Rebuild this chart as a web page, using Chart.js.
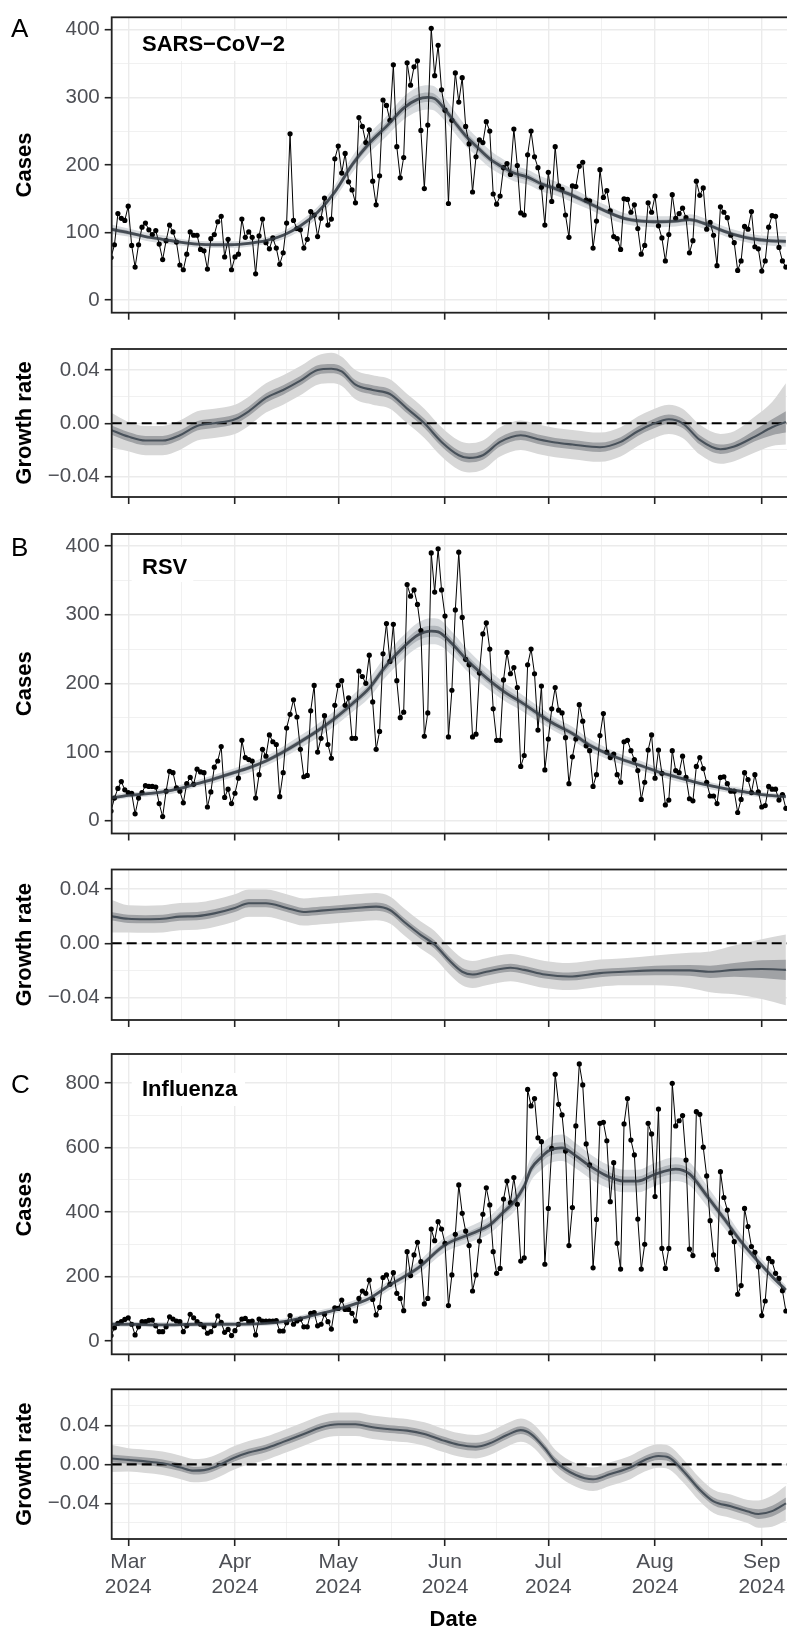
<!DOCTYPE html>
<html><head><meta charset="utf-8">
<script src="https://cdn.jsdelivr.net/npm/chart.js@4.4.1/dist/chart.umd.min.js"></script>
<style>
html,body{margin:0;padding:0;background:#fff;width:787px;height:1628px;overflow:hidden;position:relative;}
canvas{position:absolute;left:0;top:0;}
</style></head><body>
<canvas id="c0" width="800" height="1640"></canvas>
<canvas id="c1" width="800" height="1640"></canvas>
<canvas id="c2" width="800" height="1640"></canvas>
<canvas id="c3" width="800" height="1640"></canvas>
<canvas id="c4" width="800" height="1640"></canvas>
<canvas id="c5" width="800" height="1640"></canvas>
<script>
// ---------------- DATA ----------------
// x values are days counted from 1 March 2024
const monthStarts = [0, 31, 61, 92, 122, 153, 184];
const monthMids = [15.5, 46, 76.5, 107, 137.5, 168.5];
const monthLabels = ['Mar', 'Apr', 'May', 'Jun', 'Jul', 'Aug', 'Sep'];
const yearLabel = '2024';
const obsStart = -5; // 25 Feb 2024, daily observations

// SARS-CoV-2 daily cases
const sarsCases = [63,82,128,121,118,139,81,49,82,108,
114,104,97,103,83,60,88,111,101,86,
52,45,68,101,96,96,75,73,46,91,
97,116,124,64,90,45,64,68,120,93,
101,93,39,95,120,85,76,92,77,53,
70,114,246,118,106,104,77,90,131,126,
94,121,151,111,120,209,228,188,217,175,
163,144,270,257,233,252,176,141,184,296,
288,
266,348,227,181,211,351,318,345,354,251,
165,259,402,332,377,311,281,143,266,336,
293,329,257,231,160,212,237,233,264,250,
157,142,154,196,202,186,253,199,129,126,
215,250,212,196,167,111,189,146,227,169,
164,126,93,169,168,198,204,148,147,77,
117,193,152,162,132,94,91,75,150,149,
130,141,106,68,81,144,130,154,110,92,
58,97,156,121,128,136,122,70,88,176,
155,166,105,115,96,51,138,130,122,96,
85,44,58,109,105,131,79,76,43,58,
108,125,124,78,58,49];
const sarsTrendDays = [-5,0,5,10,15,20,25,30,35,40,45,50,55,60,65,70,75,80,84,87,89,92,95,98,101,105,109,112,116,120,124,129,134,139,144,149,154,159,163,167,171,176,181,186,191];
const sarsTrend = [105,100,94,90,86,83,82,82,84,88,96,110,130,160,200,232,257,284,297,300,298,282,262,243,228,209,196,188,182,172,165,155,143,131,121,117,116,117,119,114,106,97,91,88,87];
const sarsHi95 = [112,106,100,96,91,88,87,87,89,93,102,117,138,170,212,246,272,301,315,318,316,299,278,258,242,222,208,200,193,183,176,165,152,140,129,125,124,125,127,122,113,104,98,95,95];
const sarsLo95 = [98,94,88,84,81,78,77,77,79,83,90,103,122,150,188,218,242,267,279,282,280,265,246,228,214,196,184,176,171,161,155,145,134,122,113,109,108,109,111,106,99,90,84,81,79];
const sarsHi50 = [108,103,96,92,88,85,84,84,86,90,98,113,133,164,205,238,263,291,304,307,305,289,268,249,234,214,201,193,187,176,169,159,147,134,124,120,119,120,122,117,109,100,94,91,90];
const sarsLo50 = [102,97,92,88,84,81,80,80,82,86,94,107,127,156,195,226,251,277,290,293,291,275,256,237,222,204,191,183,177,168,161,151,139,128,118,114,113,114,116,111,103,94,88,85,84];
const sarsGrowthDays = [-5,0,5,10,15,20,25,31,35,40,45,50,55,59,62,66,71,76,81,86,91,96,99,103,108,114,119,124,129,137,143,148,152,157,161,166,172,176,182,187,191];
const sarsGrowth = [-0.005,-0.010,-0.013,-0.013,-0.009,-0.002,0.000,0.003,0.009,0.019,0.025,0.032,0.040,0.041,0.039,0.029,0.025,0.022,0.011,0.000,-0.014,-0.024,-0.026,-0.024,-0.014,-0.009,-0.012,-0.0145,-0.016,-0.018,-0.014,-0.006,-0.001,0.003,0.000,-0.0125,-0.0195,-0.0175,-0.010,-0.003,0.001];
const sarsGHi95 = [0.008,0.001,-0.002,-0.002,0.002,0.009,0.011,0.014,0.020,0.030,0.036,0.043,0.051,0.053,0.050,0.040,0.036,0.033,0.022,0.011,-0.003,-0.013,-0.015,-0.013,-0.003,0.002,-0.001,-0.0035,-0.005,-0.007,-0.003,0.005,0.010,0.014,0.011,-0.001,-0.008,-0.006,0.005,0.016,0.030];
const sarsGLo95 = [-0.018,-0.021,-0.024,-0.024,-0.020,-0.013,-0.011,-0.008,-0.002,0.008,0.014,0.021,0.029,0.030,0.028,0.018,0.014,0.011,0.000,-0.011,-0.025,-0.035,-0.037,-0.035,-0.025,-0.020,-0.023,-0.0255,-0.027,-0.029,-0.025,-0.017,-0.012,-0.008,-0.011,-0.0235,-0.0305,-0.0285,-0.022,-0.017,-0.016];
const sarsGHi50 = [-0.0015,-0.0065,-0.0095,-0.0095,-0.0055,0.0015,0.0035,0.0065,0.0125,0.0225,0.0285,0.0355,0.0435,0.0445,0.0425,0.0325,0.0285,0.0255,0.0145,0.0035,-0.0105,-0.0205,-0.0225,-0.0205,-0.0105,-0.0055,-0.0085,-0.011,-0.0125,-0.0145,-0.0105,-0.0025,0.0025,0.0065,0.0035,-0.009,-0.016,-0.014,-0.005,0.003,0.009];
const sarsGLo50 = [-0.0085,-0.0135,-0.0165,-0.0165,-0.0125,-0.0055,-0.0035,-0.0005,0.0055,0.0155,0.0215,0.0285,0.0365,0.0375,0.0355,0.0255,0.0215,0.0185,0.0075,-0.0035,-0.0175,-0.0275,-0.0295,-0.0275,-0.0175,-0.0125,-0.0155,-0.018,-0.0195,-0.0215,-0.0175,-0.0095,-0.0045,-0.0005,-0.0035,-0.016,-0.023,-0.021,-0.0135,-0.009,-0.007];

// RSV daily cases
const rsvCases = [14,33,47,57,45,41,40,10,33,41,
51,50,50,49,25,6,43,72,70,48,
43,26,54,63,53,75,71,70,20,42,
78,87,108,34,46,25,40,62,117,92,
89,87,33,67,104,94,125,115,111,35,
70,135,155,176,151,104,64,66,160,197,
100,120,153,111,91,168,197,204,168,179,
120,120,218,210,200,241,173,104,130,243,
287,
232,286,204,150,158,344,327,336,315,277,
123,157,390,333,396,336,298,122,190,307,
391,296,235,227,122,126,215,272,288,250,
163,117,117,205,245,214,223,194,79,95,
227,250,214,132,196,74,119,163,194,161,
157,121,54,93,119,169,145,109,102,50,
67,124,156,100,92,97,67,56,115,117,
102,89,73,31,56,103,125,62,103,69,
23,30,102,73,70,94,63,32,29,79,
92,76,56,36,36,25,63,64,54,43,
43,12,31,70,60,41,67,42,20,22,
50,46,46,30,38,18];
const rsvTrendDays = [-5,0,5,10,15,20,25,30,35,40,45,50,55,60,65,70,74,76,78,80,84,88,90,94,98,102,106,110,114,119,124,129,134,139,144,149,154,159,164,169,174,179,184,191];
const rsvTrend = [33,37,39,42,47,54,61,69,77,87,100,115,131,149,170,193,220,232,243,253,270,276,275,258,236,217,200,185,173,156,140,127,110,98,88,80,71,64,57,51,46,42,38,35];
const rsvHi95 = [37,41,43,47,52,59,67,75,84,94,108,124,141,160,182,207,235,248,260,270,288,295,294,275,252,232,214,198,185,167,150,137,119,106,95,87,77,70,62,56,51,47,42,39];
const rsvLo95 = [29,33,35,37,42,49,55,63,70,80,92,106,121,138,158,179,205,216,226,236,252,257,256,241,220,202,186,172,161,145,130,117,101,90,81,73,65,58,52,46,41,37,34,31];
const rsvHi50 = [35,39,41,44,49,56,64,72,80,90,104,119,135,154,175,199,226,239,250,260,278,284,283,265,243,223,206,191,178,161,145,131,114,101,91,83,74,67,59,53,48,44,40,37];
const rsvLo50 = [31,35,37,40,45,52,58,66,74,84,96,111,127,144,165,187,214,225,236,246,262,268,267,251,229,211,194,179,168,151,135,123,106,95,85,77,68,61,55,49,44,40,36,33];
const rsvGrowthDays = [-5,0,5,10,15,20,25,31,35,40,46,51,56,61,66,72,76,80,85,89,93,97,100,104,111,115,121,128,137,144,153,163,169,176,184,191];
const rsvGrowth = [0.020,0.018,0.0177,0.018,0.0196,0.020,0.022,0.026,0.0295,0.0295,0.026,0.023,0.024,0.025,0.026,0.027,0.0245,0.016,0.006,-0.001,-0.012,-0.021,-0.023,-0.021,-0.018,-0.0196,-0.023,-0.0245,-0.022,-0.021,-0.020,-0.020,-0.021,-0.0196,-0.019,-0.0196];
const rsvGHi95 = [0.032,0.028,0.0277,0.028,0.0296,0.030,0.032,0.036,0.0395,0.0395,0.036,0.033,0.034,0.035,0.036,0.037,0.0345,0.026,0.016,0.009,-0.002,-0.011,-0.013,-0.011,-0.008,-0.0096,-0.013,-0.0145,-0.012,-0.011,-0.009,-0.007,-0.006,-0.0016,0.003,0.0064];
const rsvGLo95 = [0.008,0.008,0.0077,0.008,0.0096,0.010,0.012,0.016,0.0195,0.0195,0.016,0.013,0.014,0.015,0.016,0.017,0.0145,0.006,-0.004,-0.011,-0.022,-0.031,-0.033,-0.031,-0.028,-0.0296,-0.033,-0.0345,-0.032,-0.031,-0.031,-0.033,-0.036,-0.0376,-0.041,-0.0456];
const rsvGHi50 = [0.023,0.021,0.0207,0.021,0.0226,0.023,0.025,0.029,0.0325,0.0325,0.029,0.026,0.027,0.028,0.029,0.030,0.0275,0.019,0.009,0.002,-0.009,-0.018,-0.020,-0.018,-0.015,-0.0166,-0.020,-0.0215,-0.019,-0.018,-0.0165,-0.016,-0.0165,-0.0146,-0.0125,-0.0121];
const rsvGLo50 = [0.017,0.015,0.0147,0.015,0.0166,0.017,0.019,0.023,0.0265,0.0265,0.023,0.020,0.021,0.022,0.023,0.024,0.0215,0.013,0.003,-0.004,-0.015,-0.024,-0.026,-0.024,-0.021,-0.0226,-0.026,-0.0275,-0.025,-0.024,-0.0235,-0.024,-0.0255,-0.0246,-0.0255,-0.0271];

// Influenza daily cases
const fluCases = [17,41,55,60,67,72,52,19,44,60,
60,64,65,47,29,29,44,75,68,62,
60,29,47,83,72,60,52,44,24,29,
48,78,58,27,36,17,32,52,68,70,
60,62,19,68,62,62,62,62,63,31,
31,57,79,52,62,68,44,44,86,88,
47,52,83,60,37,103,101,127,98,98,
86,62,132,155,148,189,129,81,104,197,
205,
176,212,148,132,94,277,203,267,306,246,
115,132,347,311,370,347,303,110,205,331,
484,396,341,296,155,205,310,393,475,422,
277,210,225,440,496,429,507,424,248,258,
780,729,752,630,618,238,411,597,827,734,
701,589,296,414,667,859,794,611,546,227,
377,675,678,621,432,553,303,223,673,752,
623,577,378,223,300,675,642,448,719,287,
225,287,799,667,683,699,561,285,265,711,
703,601,512,373,267,222,525,445,406,336,
308,145,172,411,355,293,275,230,79,124,
256,246,210,194,156,93];
const fluTrendDays = [-5,0,10,20,30,40,45,50,55,60,65,70,76,84,92,100,105,109,112,115,117,120,122,126,130,134,139,144,148,153,159,163,168,173,178,183,187,191];
const fluTrend = [52,52,50,52,52,55,60,70,83,96,112,132,174,225,298,334,360,400,431,480,534,570,589,599,574,543,512,496,496,517,533,518,451,380,308,246,200,158];
const fluHi95 = [60,60,58,60,60,63,69,79,93,107,124,145,189,244,321,359,387,429,462,514,571,609,629,640,613,581,548,531,531,553,570,554,483,408,331,266,217,172];
const fluLo95 = [44,44,42,44,44,47,51,61,73,85,100,119,159,207,275,309,333,371,400,446,497,531,549,558,535,505,476,461,461,481,496,482,419,352,285,226,183,144];
const fluHi50 = [55,55,53,55,55,58,63,74,87,100,117,137,180,233,307,344,371,412,444,494,549,586,606,616,590,559,527,510,510,532,548,533,464,392,318,254,207,164];
const fluLo50 = [49,49,47,49,49,52,57,66,79,92,107,127,168,217,289,324,349,388,418,466,519,554,572,582,558,527,497,482,482,502,518,503,438,368,298,238,193,152];
const fluGrowthDays = [-5,0,5,10,15,19,22,25,31,35,40,45,51,56,61,66,71,76,81,86,91,96,101,105,110,114,117,121,124,130,135,140,146,150,154,157,161,166,170,175,180,183,187,191];
const fluGrowth = [0.006,0.0045,0.003,0.001,-0.003,-0.0065,-0.006,-0.003,0.007,0.012,0.0164,0.023,0.031,0.038,0.041,0.041,0.038,0.036,0.0345,0.031,0.025,0.020,0.018,0.0215,0.030,0.035,0.031,0.0164,0.003,-0.011,-0.0154,-0.010,-0.003,0.0045,0.0085,0.007,-0.006,-0.026,-0.038,-0.043,-0.0485,-0.051,-0.048,-0.040];
const fluGHi95 = [0.020,0.0165,0.015,0.013,0.009,0.0055,0.006,0.009,0.019,0.024,0.0284,0.035,0.043,0.050,0.053,0.053,0.050,0.048,0.0465,0.043,0.037,0.032,0.030,0.0335,0.042,0.047,0.043,0.0284,0.015,0.001,-0.0034,0.002,0.009,0.0165,0.0205,0.019,0.006,-0.014,-0.026,-0.031,-0.0365,-0.037,-0.032,-0.022];
const fluGLo95 = [-0.008,-0.0075,-0.009,-0.011,-0.015,-0.0185,-0.018,-0.015,-0.005,0.000,0.0044,0.011,0.019,0.026,0.029,0.029,0.026,0.024,0.0225,0.019,0.013,0.008,0.006,0.0095,0.018,0.023,0.019,0.0044,-0.009,-0.023,-0.0274,-0.022,-0.015,-0.0075,-0.0035,-0.005,-0.018,-0.038,-0.050,-0.055,-0.0605,-0.065,-0.064,-0.058];
const fluGHi50 = [0.010,0.0085,0.007,0.005,0.001,-0.0025,-0.002,0.001,0.011,0.016,0.0204,0.027,0.035,0.042,0.045,0.045,0.042,0.040,0.0385,0.035,0.029,0.024,0.022,0.0255,0.034,0.039,0.035,0.0204,0.007,-0.007,-0.0114,-0.006,0.001,0.0085,0.0125,0.011,-0.002,-0.022,-0.034,-0.039,-0.0445,-0.046,-0.0425,-0.034];
const fluGLo50 = [0.002,0.0005,-0.001,-0.003,-0.007,-0.0105,-0.010,-0.007,0.003,0.008,0.0124,0.019,0.027,0.034,0.037,0.037,0.034,0.032,0.0305,0.027,0.021,0.016,0.014,0.0175,0.026,0.031,0.027,0.0124,-0.001,-0.015,-0.0194,-0.014,-0.007,0.0005,0.0045,0.003,-0.010,-0.030,-0.042,-0.047,-0.0525,-0.056,-0.0535,-0.046];

// ---------------- LAYOUT / STYLE ----------------
const W = 800, H = 1640;
const PLOT_LEFT = 111.7, PLOT_RIGHT = 795;
const X_MIN = -4.8, X_MAX = 193.65;
const FONT = "'Liberation Sans', Arial, Helvetica, sans-serif";
const TICK_COLOR = '#4D4F55';
const GRID = '#EBEBEB';

function pts(xs, ys) { return xs.map((x, i) => ({ x: x, y: ys[i] })); }
function days(arr) { return arr.map((_, i) => obsStart + i); }
const near = (list, v) => list.some(m => Math.abs(m - v) < 1e-9);
const fmtCases = v => String(Math.round(v));
const fmtGrowth = v => (v < -1e-9 ? '\u2212' : '') + Math.abs(v).toFixed(2);

const panels = [
  { id: 'c0', kind: 'cases', top: 12.7, bottom: 312.7, yMin: -18.5, yMax: 418.3,
    major: [0, 100, 200, 300, 400], minor: [50, 150, 250, 350], title: 'Cases', fmt: fmtCases,
    letter: 'A', letterY: 36.5, label: 'SARS\u2212CoV\u22122', box: [131.7, 31, 161.6, 30], labelY: 51,
    obs: sarsCases, tDays: sarsTrendDays, mid: sarsTrend, hi95: sarsHi95, lo95: sarsLo95, hi50: sarsHi50, lo50: sarsLo50 },
  { id: 'c1', kind: 'growth', top: 349, bottom: 497, yMin: -0.0554, yMax: 0.0558,
    major: [-0.04, 0, 0.04], minor: [-0.02, 0.02], title: 'Growth rate', fmt: fmtGrowth,
    tDays: sarsGrowthDays, mid: sarsGrowth, hi95: sarsGHi95, lo95: sarsGLo95, hi50: sarsGHi50, lo50: sarsGLo50 },
  { id: 'c2', kind: 'cases', top: 534, bottom: 833.5, yMin: -18.6, yMax: 417.5,
    major: [0, 100, 200, 300, 400], minor: [50, 150, 250, 350], title: 'Cases', fmt: fmtCases,
    letter: 'B', letterY: 555.5, label: 'RSV', box: [131.7, 547, 61.6, 35], labelY: 573.5,
    obs: rsvCases, tDays: rsvTrendDays, mid: rsvTrend, hi95: rsvHi95, lo95: rsvLo95, hi50: rsvHi50, lo50: rsvLo50 },
  { id: 'c3', kind: 'growth', top: 869.5, bottom: 1020, yMin: -0.0565, yMax: 0.0543,
    major: [-0.04, 0, 0.04], minor: [-0.02, 0.02], title: 'Growth rate', fmt: fmtGrowth,
    tDays: rsvGrowthDays, mid: rsvGrowth, hi95: rsvGHi95, lo95: rsvGLo95, hi50: rsvGHi50, lo50: rsvGLo50 },
  { id: 'c4', kind: 'cases', top: 1054, bottom: 1354.3, yMin: -41.2, yMax: 889.9,
    major: [0, 200, 400, 600, 800], minor: [100, 300, 500, 700], title: 'Cases', fmt: fmtCases,
    letter: 'C', letterY: 1093.3, label: 'Influenza', box: [131.7, 1073, 113.3, 33], labelY: 1096,
    obs: fluCases, tDays: fluTrendDays, mid: fluTrend, hi95: fluHi95, lo95: fluLo95, hi50: fluHi50, lo50: fluLo50 },
  { id: 'c5', kind: 'growth', top: 1389.3, bottom: 1539, yMin: -0.0766, yMax: 0.0769,
    major: [-0.04, 0, 0.04], minor: [-0.06, -0.02, 0.02, 0.06], title: 'Growth rate', fmt: fmtGrowth, showX: true,
    tDays: fluGrowthDays, mid: fluGrowth, hi95: fluGHi95, lo95: fluGLo95, hi50: fluGHi50, lo50: fluGLo50 }
];

const annotPlugin = {
  id: 'annot',
  beforeDatasetsDraw(chart, args, o) {
    if (!o.label) return;
    const ctx = chart.ctx;
    ctx.save();
    ctx.fillStyle = '#fff';
    ctx.fillRect(o.box[0], o.box[1], o.box[2], o.box[3]);
    ctx.fillStyle = '#000';
    ctx.font = 'bold 22px ' + FONT;
    ctx.textBaseline = 'alphabetic';
    ctx.textAlign = 'left';
    ctx.fillText(o.label, 142, o.labelY);
    ctx.restore();
  },
  afterDatasetsDraw(chart, args, o) {
    const ctx = chart.ctx, a = chart.chartArea;
    ctx.save();
    ctx.strokeStyle = '#222';
    ctx.lineWidth = 1.8;
    ctx.strokeRect(a.left, a.top, a.right - a.left, a.bottom - a.top);
    if (o.letter) {
      ctx.fillStyle = '#000';
      ctx.font = '26px ' + FONT;
      ctx.textBaseline = 'alphabetic';
      ctx.textAlign = 'left';
      ctx.fillText(o.letter, 11, o.letterY);
    }
    ctx.restore();
  }
};

function build(p) {
  const isCases = p.kind === 'cases';
  const inner = isCases ? '#B1B6BB' : '#A0A2A5';
  const outer = isCases ? '#D8DBDE' : '#D8D8D8';
  const band = { borderWidth: 0, pointRadius: 0, pointHoverRadius: 0, cubicInterpolationMode: 'monotone' };
  const ds = [];
  ds.push({ label: 'trend', data: pts(p.tDays, p.mid), borderColor: isCases ? 'rgba(50,58,66,0.85)' : '#48515A',
            borderWidth: isCases ? 2.8 : 2.1, pointRadius: 0, pointHoverRadius: 0, cubicInterpolationMode: 'monotone', fill: false, order: 0 });
  if (isCases) {
    ds.push({ label: 'observed', data: pts(days(p.obs), p.obs), borderColor: '#000', borderWidth: 1,
              pointRadius: 2.6, pointBackgroundColor: '#000', pointBorderWidth: 0, pointHoverRadius: 0, tension: 0, fill: false, order: 1 });
  } else {
    ds.push({ label: 'zero', data: [{ x: X_MIN, y: 0 }, { x: X_MAX, y: 0 }], borderColor: '#000', borderWidth: 2.2,
              borderDash: [10, 5], pointRadius: 0, pointHoverRadius: 0, fill: false, order: 1 });
  }
  ds.push(Object.assign({ label: 'hi50', data: pts(p.tDays, p.hi50), fill: '+1', backgroundColor: inner, order: 3 }, band));
  ds.push(Object.assign({ label: 'lo50', data: pts(p.tDays, p.lo50), fill: false, order: 3 }, band));
  ds.push(Object.assign({ label: 'hi95', data: pts(p.tDays, p.hi95), fill: '+1', backgroundColor: outer, order: 4 }, band));
  ds.push(Object.assign({ label: 'lo95', data: pts(p.tDays, p.lo95), fill: false, order: 4 }, band));

  const xh = p.showX ? (H - p.bottom) : 7;
  const yTicks = p.major.concat(p.minor).sort((a, b) => a - b);
  const xTicks = monthStarts.concat(monthMids).sort((a, b) => a - b);

  new Chart(document.getElementById(p.id), {
    type: 'line',
    data: { datasets: ds },
    plugins: [annotPlugin],
    options: {
      responsive: false, animation: false, devicePixelRatio: 1, events: [],
      layout: { padding: { left: 0, right: W - PLOT_RIGHT, top: p.top, bottom: H - p.bottom - xh } },
      plugins: {
        legend: { display: false }, tooltip: { enabled: false },
        annot: { letter: p.letter, letterY: p.letterY, label: p.label, box: p.box, labelY: p.labelY }
      },
      scales: {
        x: {
          type: 'linear', min: X_MIN, max: X_MAX,
          afterBuildTicks: s => { s.ticks = xTicks.map(v => ({ value: v })); },
          afterFit: s => { s.height = xh; },
          border: { display: false },
          grid: {
            color: GRID,
            lineWidth: c => (c.tick && near(monthStarts, c.tick.value)) ? 1.4 : 0.7,
            tickColor: c => (c.tick && near(monthStarts, c.tick.value)) ? '#222' : 'rgba(0,0,0,0)',
            tickLength: 7, tickWidth: 1.6
          },
          ticks: {
            display: !!p.showX, autoSkip: false, maxRotation: 0, minRotation: 0, padding: 4,
            color: TICK_COLOR, font: { family: FONT, size: 21, lineHeight: 1.19 },
            callback: v => { const i = monthStarts.indexOf(v); return i >= 0 ? [monthLabels[i], yearLabel] : ''; }
          },
          title: { display: !!p.showX, text: 'Date', color: '#000', font: { family: FONT, size: 22, weight: 'bold', lineHeight: 1.2 }, padding: { top: 0, bottom: 6.8 } }
        },
        y: {
          type: 'linear', min: p.yMin, max: p.yMax,
          afterBuildTicks: s => { s.ticks = yTicks.map(v => ({ value: v })); },
          afterFit: s => { s.width = PLOT_LEFT; },
          border: { display: false },
          grid: {
            color: GRID,
            lineWidth: c => (c.tick && near(p.major, c.tick.value)) ? 1.4 : 0.7,
            tickColor: c => (c.tick && near(p.major, c.tick.value)) ? '#222' : 'rgba(0,0,0,0)',
            tickLength: 7, tickWidth: 1.6
          },
          ticks: {
            autoSkip: false, padding: 5, color: TICK_COLOR, font: { family: FONT, size: 20.5 },
            callback: v => near(p.major, v) ? p.fmt(v) : ''
          },
          title: { display: true, text: p.title, color: '#000', font: { family: FONT, size: 22, weight: 'bold', lineHeight: 1.2 }, padding: { top: 12, bottom: 0 } }
        }
      }
    }
  });
}
panels.forEach(build);
</script>
</body></html>
